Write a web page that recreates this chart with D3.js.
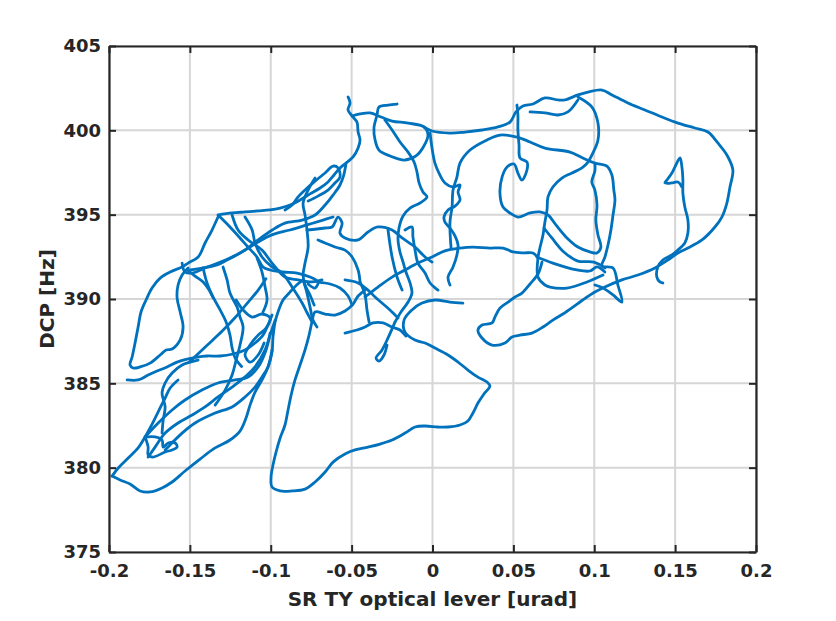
<!DOCTYPE html>
<html>
<head>
<meta charset="utf-8">
<script src="https://d3js.org/d3.v7.min.js"></script>
<style>
  body { margin: 0; background: #fff; }
  text { font-family: "DejaVu Sans", sans-serif; font-weight: bold; fill: #262626; }
</style>
</head>
<body>
<svg id="chart" width="836" height="621"></svg>
<script>
// axis ticks
var xTicks = [-0.2, -0.15, -0.1, -0.05, 0, 0.05, 0.1, 0.15, 0.2];
var xTickLabels = ["-0.2", "-0.15", "-0.1", "-0.05", "0", "0.05", "0.1", "0.15", "0.2"];
var yTicks = [375, 380, 385, 390, 395, 400, 405];

// trace pieces [optical lever urad, DCP Hz]
var bottomLoop = [
  [[0.0188,389.76],[0.0108,389.82],[0.0015,389.94],[-0.0065,389.76],[-0.0127,389.35],[-0.0176,388.75],[-0.017,388.04],[-0.0108,387.57],[-0.0046,387.39],[0.0015,387.09],[0.0096,386.68],[0.0158,386.26],[0.0219,385.79],[0.0281,385.37],[0.0337,385.08],[0.0355,384.84],[0.0318,384.37],[0.0281,383.83],[0.025,383.24],[0.0219,382.77],[0.017,382.53],[0.0096,382.41],[0.0034,382.41],[-0.0046,382.47],[-0.0108,382.41],[-0.017,382.05],[-0.025,381.64],[-0.0324,381.4],[-0.0399,381.22],[-0.0479,381.05],[-0.0541,380.81],[-0.0615,380.33],[-0.0664,379.74],[-0.0726,379.15],[-0.0788,378.73],[-0.0868,378.62],[-0.0942,378.62],[-0.0992,378.85],[-0.0998,379.45],[-0.0986,380.16],[-0.0967,380.93],[-0.0942,381.76],[-0.0912,382.53],[-0.0893,383.42],[-0.0874,384.31],[-0.085,385.2],[-0.0819,386.09],[-0.0788,386.98],[-0.0763,387.86],[-0.0745,388.64],[-0.0726,389.23],[-0.0664,389.11],[-0.0603,389.05],[-0.0541,389.29],[-0.0491,389.7],[-0.046,390.18],[-0.0417,390.53]],
  [[-0.0541,387.98],[-0.0467,388.16],[-0.0417,388.34],[-0.0368,388.58],[-0.0306,388.58],[-0.025,388.34],[-0.0201,388.16],[-0.0164,387.8]],
  [[-0.0232,388.63],[-0.0275,387.69],[-0.0312,386.98],[-0.0349,386.5],[-0.0331,386.32],[-0.03,386.68],[-0.0281,387.27]],
  [[-0.0448,391.01],[-0.0417,390.24],[-0.0405,389.35],[-0.0392,388.64]]
];

var centerStrands = [
  [[-0.0522,401.98],[-0.051,401.62],[-0.0522,401.21],[-0.0497,400.85],[-0.0467,400.49],[-0.046,399.9],[-0.0448,399.43],[-0.046,398.95],[-0.0491,398.42],[-0.0535,398.06],[-0.0572,397.77],[-0.0609,397.35],[-0.0646,396.94],[-0.0695,396.58],[-0.0757,396.23],[-0.0819,395.87],[-0.0881,395.57],[-0.0942,395.39],[-0.1004,395.28],[-0.1078,395.22],[-0.1159,395.16],[-0.1239,395.1],[-0.1326,394.98]],
  [[-0.0219,401.56],[-0.0275,401.5],[-0.0331,401.38],[-0.0343,400.91],[-0.0362,400.14],[-0.0355,399.43],[-0.0331,398.83],[-0.0263,398.48],[-0.017,398.24],[-0.0102,398.48],[-0.0053,399.07],[-0.0028,399.73],[-0.0053,400.2],[-0.0151,400.43],[-0.025,400.55],[-0.0318,400.79],[-0.0386,401.03],[-0.0448,400.97],[-0.0497,400.85]],
  [[-0.0294,400.61],[-0.025,400.02],[-0.0201,399.31],[-0.0151,398.71],[-0.0114,398.12],[-0.0096,397.53],[-0.0083,396.88],[-0.0059,396.34],[-0.0034,396.05],[-0.0077,395.69],[-0.0139,395.39],[-0.0182,394.92],[-0.0207,394.21],[-0.0213,393.5],[-0.0201,392.79],[-0.0182,392.19],[-0.0164,391.6],[-0.0139,390.95],[-0.0127,390.35],[-0.0151,389.82],[-0.0195,389.23],[-0.0232,388.63]],
  [[-0.0417,390.12],[-0.0337,390.71],[-0.025,391.3],[-0.017,391.72],[-0.009,392.13],[-0.0003,392.49],[0.0077,392.85],[0.017,393.02],[0.025,393.08],[0.0355,393.02],[0.0436,393.02],[0.0498,392.79],[0.056,392.73],[0.0621,392.73],[0.0652,392.43]],
  [[-0.0015,399.84],[-0.0003,398.95],[0.0015,398.06],[0.0046,397.35],[0.0077,396.88],[0.0127,396.64],[0.017,396.76],[0.0158,396.34],[0.017,395.87],[0.0139,395.51],[0.0096,395.28],[0.0071,394.86],[0.0077,394.56],[0.0108,394.21],[0.0139,393.74],[0.0158,393.2],[0.0151,392.61],[0.0127,391.9],[0.0096,391.3],[0.0108,390.83]],
  [[-0.0776,394.09],[-0.0715,394.15],[-0.0664,394.21],[-0.0621,394.27],[-0.0584,394.86],[-0.0559,394.5],[-0.0572,393.91],[-0.0541,393.62],[-0.046,393.5],[-0.0399,393.97],[-0.0337,394.27],[-0.025,394.09],[-0.0188,393.62],[-0.0108,393.08],[-0.0046,392.49],[-0.0003,392.19]],
  [[-0.017,394.09],[-0.0127,394.27],[-0.0121,393.68],[-0.0108,392.9],[-0.009,392.13],[-0.0046,391.54],[-0.0015,390.95],[0.0034,390.53]],
  [[-0.0275,394.09],[-0.025,392.49],[-0.0219,391.3],[-0.0188,390.53]],
  [[-0.0708,391.0],[-0.0633,390.89],[-0.0572,390.65],[-0.0522,390.18],[-0.0497,389.64]],
  [[-0.0541,391.13],[-0.046,390.95],[-0.0399,390.53],[-0.0355,390.12],[-0.0312,389.76],[-0.0263,389.35],[-0.0213,388.87]],
  [[-0.0726,397.17],[-0.0769,396.46],[-0.08,395.69],[-0.0788,394.98],[-0.0776,394.09],[-0.0769,393.08],[-0.0788,392.13],[-0.08,391.42],[-0.0788,390.83],[-0.0757,390.24],[-0.0732,389.64]],
  [[-0.1313,394.86],[-0.1252,394.27],[-0.119,393.62],[-0.1141,393.08],[-0.1085,392.49],[-0.1048,391.9],[-0.1004,391.72],[-0.0924,391.6],[-0.0837,391.54],[-0.0757,391.3],[-0.0708,391.01],[-0.0726,390.65],[-0.0769,390.89]],
  [[-0.08,391.13],[-0.0776,390.35],[-0.0757,389.52],[-0.0739,388.75],[-0.0714,388.34]],
  [[-0.0912,395.28],[-0.0868,395.57],[-0.0831,396.05],[-0.0788,396.46],[-0.0726,396.99],[-0.0664,397.47],[-0.0615,397.88],[-0.0584,397.77],[-0.0572,397.23],[-0.0603,396.88],[-0.0646,396.46],[-0.0708,396.1],[-0.0769,395.81]],
  [[-0.0708,393.5],[-0.0664,393.32],[-0.0603,393.08],[-0.0541,392.9],[-0.0497,392.49],[-0.046,391.72],[-0.0448,391.01]]
];

var rightLoops = [
  [[-0.0053,400.2],[-0.0003,399.96],[0.0108,399.84],[0.0201,399.9],[0.0306,400.02],[0.0405,400.2],[0.0479,400.49],[0.0516,401.09],[0.0559,401.44],[0.0621,401.56],[0.0695,401.92],[0.0776,401.8],[0.0819,401.8],[0.0899,402.1],[0.0961,402.27],[0.1048,402.39],[0.111,402.1],[0.1208,401.62],[0.1313,401.21],[0.1418,400.79],[0.1517,400.43],[0.1622,400.14],[0.1703,399.9],[0.1764,399.25],[0.182,398.54],[0.1857,397.65],[0.1839,396.64],[0.182,395.69],[0.1789,394.86],[0.1746,394.27],[0.1666,393.5],[0.1579,393.02],[0.1517,392.73],[0.1455,392.31],[0.1375,391.84],[0.127,391.42],[0.1171,391.13],[0.1066,390.71],[0.1004,390.41],[0.0929,389.94],[0.0868,389.52],[0.0806,389.11],[0.0744,388.75],[0.0683,388.34],[0.0615,387.98],[0.0541,387.86],[0.0491,387.75],[0.0448,387.39],[0.0368,387.27],[0.0306,387.69],[0.0281,388.16],[0.0306,388.46],[0.0368,388.58],[0.0386,388.93],[0.0417,389.46],[0.0467,389.82],[0.051,390.12],[0.0553,390.35],[0.0603,390.89],[0.0652,391.48],[0.0677,392.19]],
  [[0.0899,401.98],[0.0986,401.38],[0.1023,400.43],[0.1023,399.43],[0.0992,398.66],[0.0961,398.12],[0.0924,397.77],[0.0862,397.47],[0.08,397.17],[0.0744,396.64],[0.0714,396.05],[0.0708,395.28],[0.0695,394.56],[0.0683,393.8],[0.0664,393.02],[0.0652,392.43],[0.0652,391.3],[0.0695,390.83],[0.0726,390.71],[0.0831,390.65],[0.0955,391.01],[0.1054,391.42]],
  [[0.0115,393.0],[0.0108,394.56],[0.0121,395.45],[0.0127,396.46],[0.0151,397.23],[0.017,398.06],[0.0232,398.83],[0.0337,399.43],[0.0417,399.72],[0.0522,399.6],[0.0603,399.31],[0.0695,398.95],[0.085,398.71],[0.0929,398.36],[0.1004,398.06],[0.1078,397.88],[0.1109,397.35],[0.1121,396.46],[0.1128,395.87],[0.1116,394.98],[0.1103,394.09],[0.1085,393.2],[0.1066,392.49],[0.1048,391.96],[0.1116,391.84],[0.1146,390.83],[0.1171,389.82],[0.1116,390.24],[0.1054,390.65],[0.1004,390.83]],
  [[0.0522,401.5],[0.0528,400.91],[0.0528,400.02],[0.0535,399.13],[0.0541,398.36],[0.0584,398.12],[0.0584,397.65],[0.0553,397.05],[0.0528,397.47],[0.0504,398.0],[0.0461,397.83],[0.043,397.23],[0.0417,396.28],[0.0436,395.45],[0.0479,395.1],[0.0528,394.86],[0.0603,395.1],[0.0664,395.16],[0.0714,394.98],[0.0763,394.39],[0.0825,393.68],[0.0899,393.08],[0.0973,392.79],[0.1017,392.73],[0.1041,393.08],[0.1023,393.79],[0.101,394.68],[0.1017,395.57],[0.1004,396.46],[0.0985,396.94],[0.1004,397.6],[0.1004,398.06]],
  [[0.0646,392.49],[0.0744,392.13],[0.0893,391.72],[0.0973,391.66],[0.1017,391.9],[0.1066,391.6]],
  [[0.0689,394.21],[0.0738,393.62],[0.0812,392.79],[0.0899,392.25],[0.0998,392.19],[0.1066,391.84]],
  [[0.1424,390.95],[0.1406,391.01],[0.1387,391.3],[0.1393,391.9],[0.1424,392.31],[0.148,392.61],[0.1517,392.9],[0.156,393.32],[0.1579,393.91],[0.1579,394.68],[0.156,395.45],[0.1548,396.28],[0.1548,397.05],[0.1542,397.83],[0.153,398.36],[0.1499,397.83],[0.148,397.47],[0.1449,397.05],[0.1437,396.88],[0.148,396.88],[0.1517,396.94],[0.1542,396.64]],
  [[0.0603,401.09],[0.0695,401.03],[0.0776,400.91],[0.0837,401.09],[0.0899,401.8]]
];

var leftCluster = [
  [[-0.1499,391.72],[-0.1418,391.84],[-0.1332,392.02],[-0.127,392.31],[-0.119,392.73],[-0.1109,393.2],[-0.1023,393.68],[-0.0961,393.91],[-0.0881,394.09],[-0.0776,394.39],[-0.0677,394.68],[-0.0615,394.86]],
  [[-0.1548,392.13],[-0.153,391.6],[-0.1486,391.54],[-0.1406,391.84],[-0.1326,392.13],[-0.1239,392.49],[-0.1159,392.9],[-0.1078,393.5],[-0.0991,394.09],[-0.0912,394.5],[-0.0806,394.68],[-0.0726,394.98],[-0.0664,395.57],[-0.0615,396.16],[-0.0572,396.76],[-0.055,397.3],[-0.0535,398.0]],
  [[-0.1239,394.98],[-0.1202,394.09],[-0.114,393.5],[-0.1054,392.9],[-0.0992,392.13],[-0.0912,391.3],[-0.0831,391.13],[-0.0745,391.01],[-0.0683,391.13]],
  [[-0.1159,394.86],[-0.1115,394.09],[-0.1097,393.32],[-0.1054,392.49],[-0.0992,391.9],[-0.093,391.54],[-0.0868,390.71],[-0.0806,389.76],[-0.0776,389.2],[-0.0745,388.64]],
  [[-0.1326,394.86],[-0.1363,394.09],[-0.1406,393.32],[-0.1449,392.49],[-0.1511,392.13],[-0.1548,391.9],[-0.1622,391.6],[-0.1684,391.24],[-0.1734,390.65],[-0.1771,389.94],[-0.1802,389.23],[-0.182,388.34],[-0.1839,387.39],[-0.1857,386.56],[-0.187,386.09],[-0.1851,385.91],[-0.1808,385.97],[-0.1746,386.2],[-0.1684,386.68],[-0.1647,386.98],[-0.161,387.03],[-0.156,387.57],[-0.1542,388.34],[-0.156,389.23],[-0.1579,390.06],[-0.1573,390.83],[-0.1548,391.42],[-0.1511,391.84]],
  [[-0.1517,391.72],[-0.1468,391.36],[-0.1418,391.01],[-0.1381,390.53],[-0.1356,390.06]],
  [[-0.1888,385.2],[-0.182,385.2],[-0.1758,385.49],[-0.1703,385.73],[-0.1641,385.97],[-0.1579,386.26],[-0.1517,386.44],[-0.1455,386.56],[-0.1394,386.62],[-0.1313,386.62],[-0.1233,386.74],[-0.1159,386.98],[-0.1097,387.39],[-0.1048,387.86],[-0.1017,388.46],[-0.0992,389.05]],
  [[-0.1981,379.5],[-0.1931,379.27],[-0.187,379.03],[-0.1808,378.62],[-0.1746,378.56],[-0.1672,378.8],[-0.161,379.15],[-0.153,379.8],[-0.1437,380.51],[-0.1344,381.17],[-0.1252,381.64],[-0.119,382.17],[-0.1153,382.94],[-0.1128,383.71],[-0.1097,384.48],[-0.1054,385.2],[-0.1017,385.97],[-0.0992,386.86],[-0.0986,387.75],[-0.0973,388.64],[-0.0955,389.23],[-0.0924,389.94],[-0.0881,390.41],[-0.0831,390.9],[-0.08,391.13]],
  [[-0.1981,379.5],[-0.1943,379.98],[-0.1881,380.57],[-0.182,381.17],[-0.1777,381.82],[-0.1746,382.35],[-0.1715,382.94],[-0.1684,383.54],[-0.1653,384.13],[-0.1622,384.72],[-0.1573,385.2]],
  [[-0.1777,381.82],[-0.1758,381.22],[-0.1758,380.75],[-0.1727,380.63],[-0.1653,380.93],[-0.161,381.05],[-0.1579,381.22],[-0.1591,381.46],[-0.1634,381.46],[-0.1665,381.22],[-0.1672,381.64],[-0.1715,381.82],[-0.1764,381.82]],
  [[-0.1758,380.63],[-0.1715,381.22],[-0.1653,382.05],[-0.1573,382.65],[-0.1486,383.12],[-0.1406,383.6],[-0.1326,384.19],[-0.1239,384.78],[-0.1159,385.38],[-0.1097,385.97],[-0.1035,386.98],[-0.1004,387.86],[-0.0973,388.75]],
  [[-0.1653,381.05],[-0.1548,382.05],[-0.1468,382.65],[-0.1344,383.24],[-0.1239,383.6],[-0.1159,384.19],[-0.1097,384.78],[-0.1054,385.38],[-0.1017,385.97],[-0.0992,386.98]],
  [[-0.1777,381.82],[-0.1696,382.65],[-0.161,383.42],[-0.153,384.01],[-0.1425,384.6],[-0.1326,385.02],[-0.122,385.2],[-0.114,385.38],[-0.1078,385.97],[-0.1029,386.98],[-0.1004,387.98]],
  [[-0.1672,382.05],[-0.1665,382.83],[-0.1653,383.6],[-0.1672,384.43],[-0.1653,385.02],[-0.161,385.61],[-0.1548,386.09],[-0.1449,386.38]],
  [[-0.1214,389.94],[-0.1171,389.35],[-0.1115,388.93],[-0.1054,389.11],[-0.1004,388.87],[-0.1029,388.28],[-0.1078,387.86],[-0.1128,387.27],[-0.1159,386.68],[-0.1128,386.26],[-0.1078,386.68],[-0.1041,387.39]],
  [[-0.1295,391.9],[-0.127,391.13],[-0.1252,390.35],[-0.1208,389.52],[-0.119,388.93],[-0.1171,388.34],[-0.119,387.27],[-0.1214,386.38],[-0.1239,385.49],[-0.1282,384.6],[-0.1344,383.71]],
  [[-0.1418,391.84],[-0.1394,390.95],[-0.1357,390.12],[-0.1313,389.35],[-0.1276,388.64],[-0.1252,387.86],[-0.1239,387.1],[-0.122,386.5],[-0.118,386.0]],
  [[-0.1085,392.43],[-0.1054,391.6],[-0.1035,390.71],[-0.1023,389.94],[-0.1048,389.23]],
  [[-0.15,386.3],[-0.14,387.2],[-0.13,388.1],[-0.122,388.9],[-0.115,389.7],[-0.108,390.5],[-0.103,391.2]]
];

var margin = {top: 46, right: 80, bottom: 69, left: 109};
var width = 836 - margin.left - margin.right;
var height = 621 - margin.top - margin.bottom;
var axisColor = "#262626";

var svg = d3.select("#chart");
svg.append("rect").attr("width", 836).attr("height", 621).attr("fill", "#fff");

var g = svg.append("g").attr("transform", "translate(" + margin.left + "," + margin.top + ")");

var x = d3.scaleLinear().domain([-0.2, 0.2]).range([0, width]);
var y = d3.scaleLinear().domain([375, 405]).range([height, 0]);

// grid
g.append("g").selectAll("line").data(xTicks).enter().append("line")
  .attr("x1", function(d) { return x(d); }).attr("x2", function(d) { return x(d); })
  .attr("y1", 0).attr("y2", height)
  .attr("stroke", "#d6d6d6").attr("stroke-width", 2);
g.append("g").selectAll("line").data(yTicks).enter().append("line")
  .attr("y1", function(d) { return y(d); }).attr("y2", function(d) { return y(d); })
  .attr("x1", 0).attr("x2", width)
  .attr("stroke", "#d6d6d6").attr("stroke-width", 2);

// the trace
g.append("clipPath").attr("id", "plotclip").append("rect").attr("width", width).attr("height", height);

var line = d3.line()
  .x(function(d) { return x(d[0]); })
  .y(function(d) { return y(d[1]); })
  .curve(d3.curveCatmullRom.alpha(0.5));

var allPieces = bottomLoop.concat(centerStrands, rightLoops, leftCluster);
g.append("g").attr("clip-path", "url(#plotclip)")
  .selectAll("path").data(allPieces).enter().append("path")
  .attr("d", line)
  .attr("fill", "none")
  .attr("stroke", "#0072BD")
  .attr("stroke-width", 2.8)
  .attr("stroke-linejoin", "round")
  .attr("stroke-linecap", "round");

// axes, ticks pointing inwards on all four sides
function styleAxis(sel) {
  sel.attr("font-family", null).attr("font-size", null);
  sel.select(".domain").attr("stroke", axisColor).attr("stroke-width", 2.2);
  sel.selectAll(".tick line").attr("stroke", axisColor).attr("stroke-width", 2);
  sel.selectAll(".tick text").style("font-size", "18px").attr("fill", axisColor);
}

g.append("g").attr("transform", "translate(0," + height + ")")
  .call(d3.axisBottom(x).tickValues(xTicks).tickFormat(function(d, i) { return xTickLabels[i]; })
    .tickSizeInner(-7).tickSizeOuter(0).tickPadding(12))
  .call(styleAxis);
g.append("g")
  .call(d3.axisTop(x).tickValues(xTicks).tickFormat("").tickSizeInner(-7).tickSizeOuter(0))
  .call(styleAxis);
g.append("g")
  .call(d3.axisLeft(y).tickValues(yTicks).tickFormat(d3.format("d")).tickSizeInner(-7).tickSizeOuter(0).tickPadding(8))
  .call(styleAxis);
g.append("g").attr("transform", "translate(" + width + ",0)")
  .call(d3.axisRight(y).tickValues(yTicks).tickFormat("").tickSizeInner(-7).tickSizeOuter(0))
  .call(styleAxis);

// axis titles
g.append("text")
  .attr("x", width / 2).attr("y", height + 54)
  .attr("text-anchor", "middle")
  .style("font-size", "20px")
  .text("SR TY optical lever [urad]");

g.append("text")
  .attr("transform", "translate(" + (-55) + "," + (height / 2) + ") rotate(-90)")
  .attr("text-anchor", "middle")
  .style("font-size", "20px")
  .text("DCP [Hz]");
</script>
</body>
</html>
